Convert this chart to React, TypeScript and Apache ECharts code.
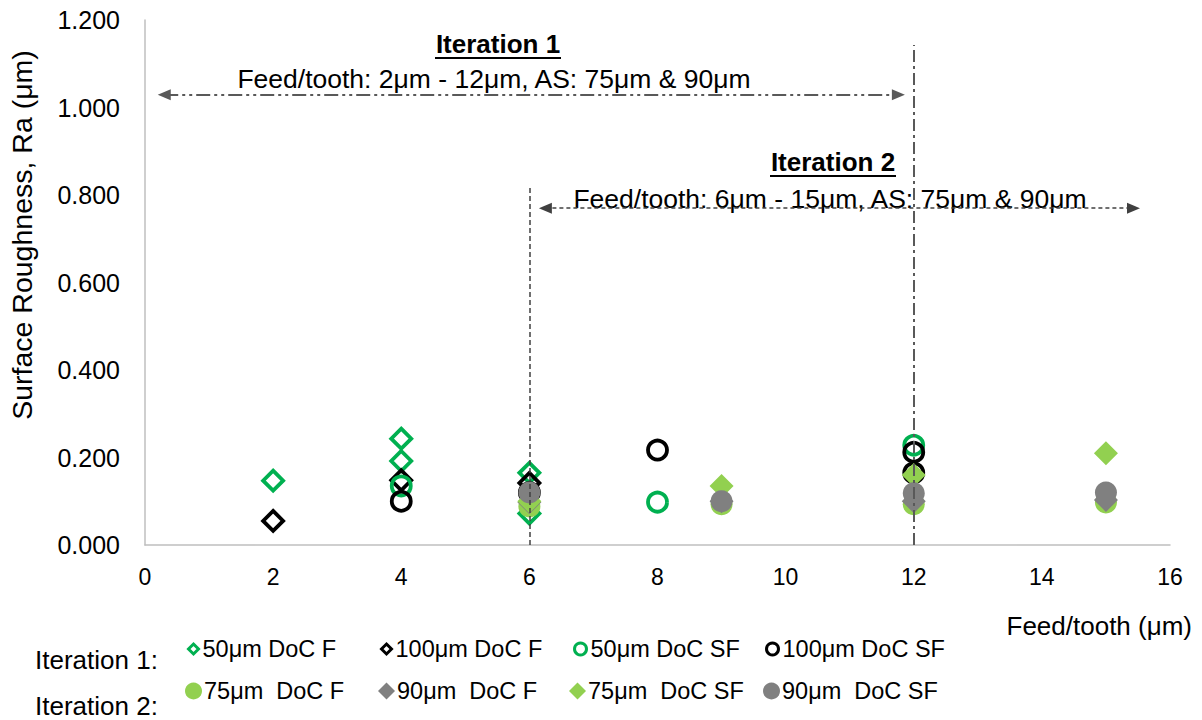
import React, { useEffect, useRef } from "react";
import * as echarts from "echarts";

// ---- data (Feed/tooth µm, Ra µm) ----
const xTicks = [0, 2, 4, 6, 8, 10, 12, 14, 16];
const yTicks = [0, 0.2, 0.4, 0.6, 0.8, 1.0, 1.2];

const it1_50F: number[][] = [[2, 0.147], [4, 0.243], [4, 0.192], [6, 0.165], [6, 0.072]];
const it1_100F: number[][] = [[2, 0.055], [4, 0.148], [6, 0.142]];
const it1_50SF: number[][] = [[4, 0.135], [8, 0.098], [12, 0.228]];
const it1_100SF: number[][] = [[4, 0.1], [6, 0.12], [8, 0.217], [12, 0.212], [12, 0.165]];

const it2_75F: number[][] = [[6, 0.088], [9, 0.093], [12, 0.093], [15, 0.097]];
const it2_90F: number[][] = [[6, 0.098], [9, 0.1], [12, 0.1], [15, 0.103]];
const it2_75SF: number[][] = [[6, 0.1], [9, 0.135], [12, 0.16], [15, 0.21]];
const it2_90SF: number[][] = [[6, 0.12], [9, 0.1], [12, 0.118], [15, 0.12]];

const names = [
  "50μm DoC F",
  "100μm DoC F",
  "50μm DoC SF",
  "100μm DoC SF",
  "75μm  DoC F",
  "90μm  DoC F",
  "75μm  DoC SF",
  "90μm  DoC SF",
];

// annotation ranges (data coordinates)
const iter1Arrow = { from: 0.3, to: 11.76, y: 1.029 };
const iter2Arrow = { from: 6.25, to: 15.43, y: 0.77 };
const vLine6 = { x: 6, top: 0.816 };
const vLine12 = { x: 12, top: 1.143 };

const FONT = "'Liberation Sans', Arial, Helvetica, sans-serif";
const DGREEN = "#00B050";
const LGREEN = "#92D050";
const GRAY = "#808080";

export default function App() {
  const ref = useRef<HTMLDivElement>(null);
  useEffect(() => {
    if (!ref.current) return;
    const chart = echarts.init(ref.current, undefined, { renderer: "svg" });

    const hollow = (color: string) => ({
      color: "rgba(255,255,255,0)",
      borderColor: color,
      borderWidth: 3.8,
      opacity: 1,
    });
    const filled = (color: string) => ({ color, opacity: 1 });

    const seriesDefs = [
      { name: names[0], data: it1_50F, symbol: "diamond", size: 20, style: hollow(DGREEN), hollow: true },
      { name: names[1], data: it1_100F, symbol: "diamond", size: 20, style: hollow("#000"), hollow: true },
      { name: names[2], data: it1_50SF, symbol: "circle", size: 19, style: hollow(DGREEN), hollow: true },
      { name: names[3], data: it1_100SF, symbol: "circle", size: 19, style: hollow("#000"), hollow: true },
      { name: names[4], data: it2_75F, symbol: "circle", size: 22, style: filled(LGREEN), hollow: false },
      { name: names[5], data: it2_90F, symbol: "diamond", size: 24, style: filled(GRAY), hollow: false },
      { name: names[6], data: it2_75SF, symbol: "diamond", size: 24, style: filled(LGREEN), hollow: false },
      { name: names[7], data: it2_90SF, symbol: "circle", size: 22, style: filled(GRAY), hollow: false },
    ];

    const legendPos = [
      { left: 187, top: 637, w: 10, h: 10 },
      { left: 380, top: 637, w: 10, h: 10 },
      { left: 573, top: 637, w: 12, h: 12 },
      { left: 765, top: 637, w: 12, h: 12 },
      { left: 185, top: 679, w: 17, h: 17 },
      { left: 378, top: 679, w: 17, h: 17 },
      { left: 569, top: 679, w: 17, h: 17 },
      { left: 763, top: 679, w: 17, h: 17 },
    ];

    const series: any[] = seriesDefs.map((d) => ({
      type: "scatter",
      name: d.name,
      data: d.data,
      symbol: d.symbol,
      symbolSize: d.size,
      itemStyle: d.style,
      emphasis: { disabled: true },
      z: 3,
    }));

    // annotation lines in data coordinates
    series.push({
      type: "scatter",
      name: "annot",
      data: [],
      silent: true,
      markLine: {
        silent: true,
        animation: false,
        label: { show: false },
        symbol: ["none", "none"],
        data: [
          [
            { coord: [vLine12.x, 0], symbol: "none" },
            { coord: [vLine12.x, vLine12.top], symbol: "none", lineStyle: { color: "#595959", width: 2, type: [12, 4, 3, 4] } },
          ],
          [
            { coord: [vLine6.x, 0], symbol: "none" },
            { coord: [vLine6.x, vLine6.top], symbol: "none", lineStyle: { color: "#404040", width: 1.5, type: [5, 3] } },
          ],
          [
            { coord: [iter1Arrow.from, iter1Arrow.y], symbol: "triangle", symbolSize: [11, 13] },
            { coord: [iter1Arrow.to, iter1Arrow.y], symbol: "triangle", symbolSize: [11, 13], lineStyle: { color: "#595959", width: 2, type: [14, 4, 3, 4, 3, 4] } },
          ],
          [
            { coord: [iter2Arrow.from, iter2Arrow.y], symbol: "triangle", symbolSize: [11, 13] },
            { coord: [iter2Arrow.to, iter2Arrow.y], symbol: "triangle", symbolSize: [11, 13], lineStyle: { color: "#404040", width: 1.5, type: [4, 3] } },
          ],
        ],
      },
    });

    const txt = (text: string, x: number, y: number, size: number, bold = false, align = "center") => ({
      type: "text",
      x,
      y,
      silent: true,
      style: {
        text,
        fill: "#000",
        font: `${bold ? "bold " : ""}${size}px ${FONT}`,
        textAlign: align,
        textVerticalAlign: "middle",
      },
    });

    chart.setOption({
      animation: false,
      backgroundColor: "#fff",
      grid: { left: 145, right: 32, top: 20, bottom: 175, containLabel: false },
      xAxis: {
        type: "value",
        min: xTicks[0],
        max: xTicks[xTicks.length - 1],
        interval: 2,
        axisLine: { show: true, lineStyle: { color: "#bfbfbf", width: 1.5 } },
        axisTick: { show: false },
        splitLine: { show: false },
        axisLabel: { color: "#000", fontSize: 23, fontFamily: FONT, margin: 20 },
      },
      yAxis: {
        type: "value",
        min: yTicks[0],
        max: yTicks[yTicks.length - 1],
        interval: 0.2,
        axisLine: { show: true, lineStyle: { color: "#bfbfbf", width: 1.5 } },
        axisTick: { show: false },
        splitLine: { show: false },
        axisLabel: {
          color: "#000",
          fontSize: 25,
          fontFamily: FONT,
          margin: 25,
          formatter: (v: number) => v.toFixed(3),
        },
      },
      legend: seriesDefs.map((d, i) => ({
        data: [d.name],
        left: legendPos[i].left,
        top: legendPos[i].top,
        padding: 0,
        itemWidth: legendPos[i].w,
        itemHeight: legendPos[i].h,
        itemGap: 0,
        selectedMode: false,
        itemStyle: d.hollow ? { borderWidth: 3, borderColor: (d.style as any).borderColor, color: "rgba(255,255,255,0)" } : {},
        textStyle: { color: "#000", fontSize: 23.5, fontFamily: FONT, padding: [0, 0, 0, d.hollow ? -1 : -3] },
      })),
      graphic: [
        txt("Iteration 1", 498, 44, 26, true),
        { type: "line", silent: true, shape: { x1: 435, y1: 58, x2: 561, y2: 58 }, style: { stroke: "#000", lineWidth: 2 } },
        txt("Feed/tooth: 2μm - 12μm, AS: 75μm & 90μm", 494, 79, 26.5),
        txt("Iteration 2", 833, 162, 26, true),
        { type: "line", silent: true, shape: { x1: 770, y1: 176, x2: 896, y2: 176 }, style: { stroke: "#000", lineWidth: 2 } },
        txt("Feed/tooth: 6μm - 15μm, AS: 75μm & 90μm", 830, 199, 26.5),
        {
          type: "text",
          x: 22,
          y: 235,
          rotation: Math.PI / 2,
          silent: true,
          style: {
            text: "Surface Roughness, Ra (μm)",
            fill: "#000",
            font: `28.5px ${FONT}`,
            textAlign: "center",
            textVerticalAlign: "middle",
          },
        },
        txt("Feed/tooth (μm)", 1192, 626, 26, false, "right"),
        txt("Iteration 1:", 35, 660, 26, false, "left"),
        txt("Iteration 2:", 35, 706, 26, false, "left"),
      ],
      series,
    });

    return () => chart.dispose();
  }, []);

  return (
    <div
      ref={ref}
      style={{ position: "fixed", left: 0, top: 0, width: 1202, height: 720, background: "#fff" }}
    />
  );
}
